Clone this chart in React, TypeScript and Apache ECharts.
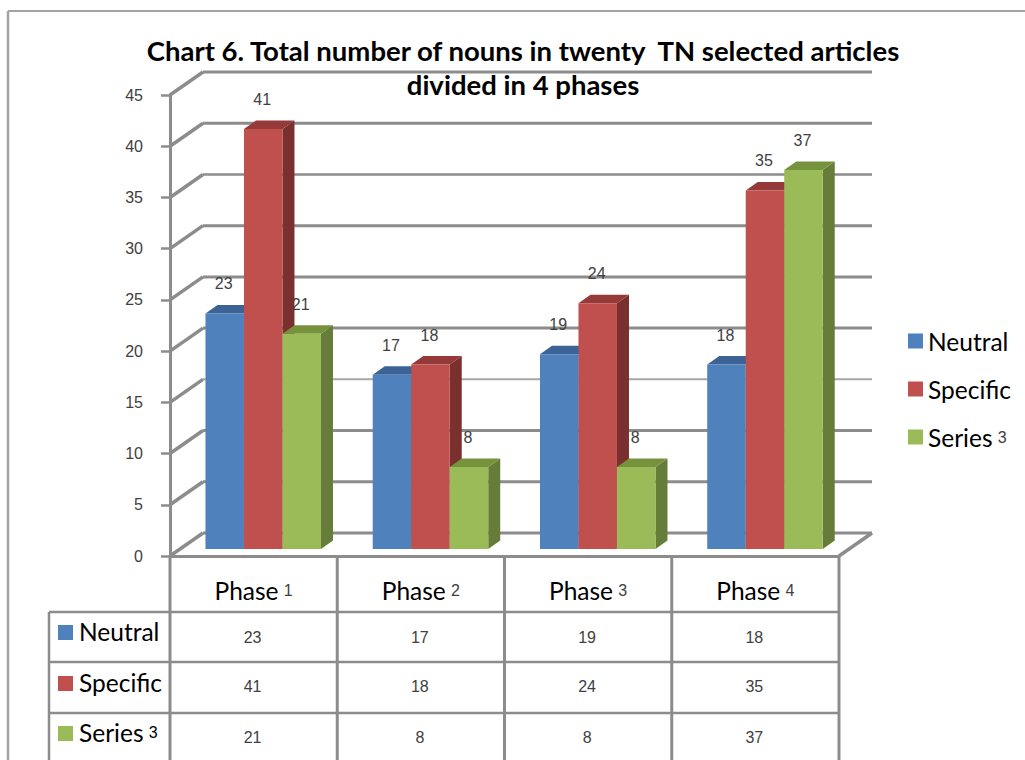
import React, { useEffect, useRef } from "react";
import * as echarts from "echarts";

const phases = ["Phase 1", "Phase 2", "Phase 3", "Phase 4"];
const neutral = [23, 17, 19, 18];
const specific = [41, 18, 24, 35];
const series3 = [21, 8, 8, 37];
const ticks = [0, 5, 10, 15, 20, 25, 30, 35, 40, 45];

const TITLE = "Chart 6. Total number of nouns in twenty  TN selected articles\ndivided in 4 phases";
const GRID = "#8c8c8c";
const UI = "Lato";
const NUM = "Liberation Sans";
const NUM_SIZE = 16;
const WALL_DX = 33;
const WALL_DY = 23;
const BAR_W = 38.5;
const BAR_DX = 12;
const BAR_DY = 8.5;
const BAR_SHIFT_X = 9.6;
const BAR_SHIFT_Y = -7;

const palette = [
  { name: "Neutral", data: neutral, front: "#4f81bd", top: "#3d6396", side: "#3a5f8c" },
  { name: "Specific", data: specific, front: "#c0504d", top: "#953a38", side: "#7a302e" },
  { name: "Series 3", data: series3, front: "#9bbb59", top: "#76923c", side: "#667d39" },
];

const rowY = [637, 686, 737];
const rowLines = [612, 662, 713];
const swatchY = [625, 676, 726];

function withDigit(name: string) {
  const m = name.match(/^(.*) (\d)$/);
  return m ? `{a|${m[1]}} {b|${m[2]}}` : `{a|${name}}`;
}

const richText = {
  a: { fontFamily: UI, fontSize: 24.5, color: "#000" },
  b: { fontFamily: NUM, fontSize: NUM_SIZE, color: "#404040", padding: [0, 0, 0, 2] },
};

function line(x1: number, y1: number, x2: number, y2: number, width = 3, color = GRID) {
  return {
    type: "line",
    shape: { x1, y1, x2, y2 },
    style: { stroke: color, lineWidth: width },
  };
}

function barSeries(s: (typeof palette)[number], idx: number) {
  return {
    type: "custom",
    name: s.name,
    z: 3,
    itemStyle: { color: s.front },
    encode: { x: 0, y: 1 },
    data: s.data.map((v, i) => [i, v]),
    renderItem: (_p: any, api: any) => {
      const top = api.coord([api.value(0), api.value(1)]);
      const base = api.coord([api.value(0), 0]);
      const x0 = top[0] + BAR_SHIFT_X + (idx - 1.5) * BAR_W;
      const x1 = x0 + BAR_W;
      const yT = top[1] + BAR_SHIFT_Y;
      const yB = base[1] + BAR_SHIFT_Y;
      return {
        type: "group",
        children: [
          {
            type: "polygon",
            shape: { points: [[x1, yT], [x1 + BAR_DX, yT - BAR_DY], [x1 + BAR_DX, yB - BAR_DY], [x1, yB]] },
            style: { fill: s.side },
          },
          {
            type: "polygon",
            shape: { points: [[x0, yT], [x0 + BAR_DX, yT - BAR_DY], [x1 + BAR_DX, yT - BAR_DY], [x1, yT]] },
            style: { fill: s.top },
          },
          { type: "rect", shape: { x: x0, y: yT, width: BAR_W, height: yB - yT }, style: { fill: s.front } },
          {
            type: "text",
            z2: 50,
            style: {
              text: String(api.value(1)),
              x: (x0 + x1) / 2 - 1,
              y: yT - BAR_DY - 21,
              align: "center",
              verticalAlign: "middle",
              fontFamily: NUM,
              fontSize: NUM_SIZE,
              fill: "#404040",
            },
          },
        ],
      };
    },
  };
}

export default function App() {
  const ref = useRef<HTMLDivElement>(null);
  useEffect(() => {
    const chart = echarts.init(ref.current!, undefined, { renderer: "svg" });
    const wallSeries = {
      type: "custom",
      name: "wall",
      z: 1,
      silent: true,
      encode: { x: 0, y: 1 },
      data: ticks.map((t) => [0, t]),
      renderItem: (p: any, api: any) => {
        const v = api.value(1);
        const y = api.coord([0, v])[1];
        const cs = p.coordSys;
        const w = v === 15 ? 2 : v === 35 ? 2.4 : 3;
        const c = v === 15 ? "#a6a6a6" : GRID;
        const children: any[] = [
          line(cs.x, y, cs.x + WALL_DX, y - WALL_DY, 3.5),
          line(cs.x + WALL_DX, y - WALL_DY, cs.x + cs.width + WALL_DX, y - WALL_DY, w, c),
        ];
        if (v === 0) children.push(line(cs.x + cs.width, y, cs.x + cs.width + WALL_DX, y - WALL_DY, 3.5));
        return { type: "group", children };
      },
    };
    const tableLines = {
      type: "custom",
      name: "table",
      z: 2,
      silent: true,
      encode: { x: 0, y: 1 },
      data: [[0, 0]],
      renderItem: (p: any, api: any) => {
        const cs = p.coordSys;
        const base = api.coord([0, 0])[1];
        const right = cs.x + cs.width;
        const step = cs.width / phases.length;
        const children: any[] = [];
        for (let i = 0; i <= phases.length; i++) {
          children.push(line(cs.x + step * i, base, cs.x + step * i, 760));
        }
        rowLines.forEach((y) => children.push(line(49, y, right, y, 2.5)));
        children.push(line(49, rowLines[0], 49, 760, 2.5));
        return { type: "group", children };
      },
    };
    const tableValues = {
      type: "custom",
      name: "values",
      z: 4,
      silent: true,
      encode: { x: 0, y: 1 },
      data: palette.flatMap((s, r) => s.data.map((v, i) => [i, v, r])),
      renderItem: (_p: any, api: any) => ({
        type: "text",
        style: {
          text: String(api.value(1)),
          x: api.coord([api.value(0), 0])[0] - 1,
          y: rowY[api.value(2)],
          align: "center",
          verticalAlign: "middle",
          fontFamily: NUM,
          fontSize: NUM_SIZE,
          fill: "#404040",
        },
      }),
    };
    chart.setOption({
      animation: false,
      backgroundColor: "#fff",
      title: {
        text: TITLE,
        left: 518,
        top: 28,
        textAlign: "center",
        textStyle: { fontFamily: UI, fontWeight: "bold", fontSize: 27.5, lineHeight: 34, color: "#000" },
      },
      grid: { left: 170, top: 95, width: 669, height: 461 },
      legend: {
        orient: "vertical",
        left: 903,
        top: 323.5,
        itemWidth: 15,
        itemHeight: 15,
        itemGap: 23,
        icon: "rect",
        selectedMode: false,
        data: palette.map((s) => s.name),
        formatter: (n: string) => withDigit(n),
        textStyle: { rich: { a: { ...richText.a, lineHeight: 30 }, b: { ...richText.b, lineHeight: 30 } } },
      },
      xAxis: {
        type: "category",
        data: phases,
        axisLine: { lineStyle: { color: GRID, width: 3 } },
        axisTick: { show: false },
        axisLabel: {
          interval: 0,
          margin: 22,
          formatter: (n: string) => withDigit(n),
          rich: richText,
        },
      },
      yAxis: {
        type: "value",
        min: 0,
        max: 45,
        interval: 5,
        splitLine: { show: false },
        axisLine: { show: true, lineStyle: { color: GRID, width: 3 } },
        axisTick: { show: true, length: 9, lineStyle: { color: GRID, width: 2.5 } },
        axisLabel: { margin: 27, fontFamily: NUM, fontSize: NUM_SIZE, color: "#404040" },
      },
      graphic: [
        { type: "line", z: 0, shape: { x1: 8, y1: 11, x2: 1025, y2: 11 }, style: { stroke: "#a3a3a3", lineWidth: 2 } },
        { type: "line", z: 0, shape: { x1: 8, y1: 11, x2: 8, y2: 760 }, style: { stroke: "#a3a3a3", lineWidth: 2.5 } },
        ...palette.flatMap((s, r) => [
          { type: "rect", shape: { x: 58, y: swatchY[r], width: 15, height: 15 }, style: { fill: s.front } },
          {
            type: "text",
            style: {
              x: 79,
              y: swatchY[r] + 6,
              verticalAlign: "middle",
              text: withDigit(s.name),
              rich: richText,
            },
          },
        ]),
      ],
      series: [wallSeries, tableLines, ...palette.map((s, i) => barSeries(s, i)), tableValues],
    });
    return () => chart.dispose();
  }, []);
  return <div ref={ref} style={{ position: "absolute", left: 0, top: 0, width: 1025, height: 760 }} />;
}
